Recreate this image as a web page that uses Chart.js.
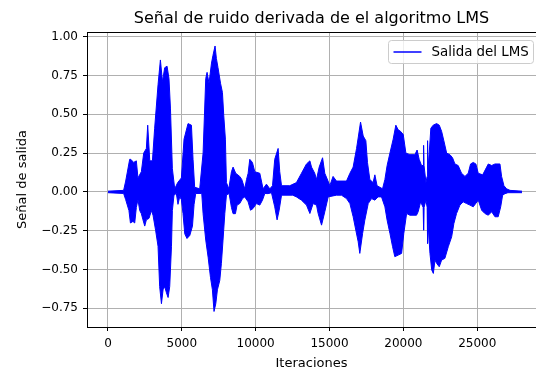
<!DOCTYPE html>
<html>
<head>
<meta charset="utf-8">
<script src="https://cdn.jsdelivr.net/npm/chart.js@4.4.0/dist/chart.umd.min.js"></script>
<style>
  html, body { margin: 0; padding: 0; background: #fff; }
</style>
</head>
<body>
<canvas id="lms-chart" width="536" height="369"></canvas>
<script>
// upper envelope of the LMS output (iteration, value)
const upperIters = [0, 1060, 1200, 1470, 1540, 1740, 1920, 2030, 2260, 2420,
  2600, 2690, 2830, 3010, 3160, 3390, 3550, 3690, 3840, 4000,
  4130, 4230, 4360, 4520, 4720, 4970, 5150, 5420, 5650, 5760,
  5870, 6210, 6440, 6620, 6710, 6840, 7010, 7110, 7250, 7340,
  7450, 7620, 7750, 7840, 7950, 8020, 8180, 8360, 8470, 8650,
  8920, 9060, 9260, 9380, 9490, 9600, 9780, 9940, 10280, 10500,
  10730, 10960, 11140, 11290, 11520, 11630, 11750, 12310, 12760, 13100,
  13440, 13670, 13780, 14000, 14120, 14300, 14530, 14680, 14900, 15020,
  15240, 15470, 16150, 16380, 16600, 16830, 16960, 17100, 17280, 17460,
  17570, 17730, 17950, 18070, 18220, 18590, 18750, 18900, 19090, 19310,
  19490, 19650, 19810, 19990, 20170, 20440, 20780, 20930, 21070, 21230,
  21340, 21370, 21400, 21530, 21610, 21640, 21670, 21750, 21860, 22020,
  22250, 22430, 22590, 22740, 22930, 23150, 23330, 23490, 23710, 23940,
  24170, 24390, 24550, 24730, 24910, 25070, 25370, 25640, 25750, 25980,
  26200, 26540, 26650, 26810, 26990, 27220, 28030];
const upperVals = [0.005, 0.01, 0.07, 0.21, 0.21, 0.19, 0.20, 0.09, 0.13, 0.25,
  0.28, 0.43, 0.20, 0.20, 0.41, 0.69, 0.85, 0.71, 0.80, 0.81,
  0.73, 0.54, 0.15, 0.02, 0.06, 0.09, 0.34, 0.44, 0.43, 0.21,
  0.03, 0.02, 0.25, 0.73, 0.77, 0.70, 0.83, 0.88, 0.94, 0.86,
  0.80, 0.70, 0.64, 0.49, 0.34, 0.06, 0.02, 0.13, 0.16, 0.12,
  0.10, 0.08, 0.02, 0.08, 0.12, 0.21, 0.19, 0.13, 0.12, 0.02,
  0.05, 0.02, 0.04, 0.21, 0.28, 0.13, 0.04, 0.04, 0.06, 0.12,
  0.18, 0.20, 0.16, 0.12, 0.08, 0.16, 0.22, 0.12, 0.07, 0.04,
  0.10, 0.07, 0.07, 0.12, 0.16, 0.28, 0.36, 0.45, 0.36, 0.33,
  0.19, 0.08, 0.06, 0.11, 0.04, 0.02, 0.08, 0.17, 0.25, 0.34,
  0.43, 0.40, 0.39, 0.37, 0.25, 0.24, 0.24, 0.27, 0.21, 0.17,
  0.17, 0.30, 0.17, 0.06, 0.10, 0.33, 0.15, 0.25, 0.41, 0.43,
  0.44, 0.43, 0.39, 0.33, 0.25, 0.24, 0.22, 0.18, 0.17, 0.12,
  0.10, 0.12, 0.18, 0.19, 0.18, 0.12, 0.11, 0.16, 0.18, 0.17,
  0.18, 0.18, 0.10, 0.04, 0.02, 0.01, 0.005];

// lower envelope
const lowerIters = [0, 1060, 1200, 1420, 1520, 1690, 1810, 1920, 2030, 2150,
  2260, 2370, 2490, 2600, 2780, 2940, 3050, 3230, 3390, 3500,
  3620, 3730, 3840, 3960, 4070, 4180, 4300, 4360, 4470, 4630,
  4740, 4860, 4970, 5080, 5200, 5350, 5540, 5720, 5830, 5940,
  6350, 6440, 6620, 6780, 6940, 7070, 7180, 7300, 7410, 7570,
  7680, 7790, 7910, 8020, 8200, 8360, 8470, 8630, 8740, 8920,
  9110, 9260, 9490, 9650, 9820, 10050, 10280, 10460, 10620, 10840,
  11070, 11290, 11450, 11590, 11750, 12510, 12760, 13100, 13440, 13670,
  13890, 14120, 14230, 14460, 14680, 14910, 15470, 15810, 16150, 16380,
  16600, 16780, 16940, 17050, 17240, 17390, 17620, 17850, 18070, 18290,
  18520, 18750, 18900, 19090, 19270, 19420, 19650, 19880, 20030, 20220,
  20440, 20890, 21000, 21170, 21340, 21370, 21400, 21530, 21610, 21640,
  21670, 21800, 21920, 22030, 22140, 22250, 22430, 22590, 22810, 23040,
  23270, 23420, 23600, 23830, 24050, 24280, 24510, 24730, 25070, 25300,
  25520, 25750, 25980, 26200, 26420, 26590, 26720, 26880, 27080, 28030];
const lowerVals = [-0.005, -0.01, -0.05, -0.12, -0.20, -0.19, -0.20, -0.10, -0.05, -0.12,
  -0.14, -0.18, -0.22, -0.18, -0.17, -0.12, -0.15, -0.25, -0.35, -0.61,
  -0.72, -0.63, -0.61, -0.65, -0.68, -0.61, -0.35, -0.12, -0.02, -0.01,
  -0.08, -0.03, -0.05, -0.14, -0.27, -0.30, -0.28, -0.22, -0.08, -0.01,
  -0.01, -0.14, -0.31, -0.42, -0.55, -0.63, -0.77, -0.72, -0.63, -0.57,
  -0.46, -0.31, -0.14, -0.02, -0.01, -0.10, -0.14, -0.14, -0.085, -0.075,
  -0.043, -0.032, -0.064, -0.118, -0.107, -0.075, -0.085, -0.053, -0.01, -0.011,
  -0.005, -0.096, -0.18, -0.118, -0.021, -0.021, -0.032, -0.053, -0.085, -0.139,
  -0.075, -0.085, -0.139, -0.214, -0.128, -0.032, -0.021, -0.021, -0.043, -0.075,
  -0.16, -0.246, -0.321, -0.396, -0.267, -0.182, -0.075, -0.043, -0.053, -0.032,
  -0.032, -0.096, -0.182, -0.267, -0.353, -0.417, -0.407, -0.396, -0.267, -0.139,
  -0.15, -0.15, -0.128, -0.064, -0.10, -0.246, -0.10, -0.053, -0.10, -0.332,
  -0.20, -0.396, -0.503, -0.525, -0.439, -0.46, -0.482, -0.439, -0.428, -0.353,
  -0.289, -0.203, -0.139, -0.085, -0.064, -0.075, -0.085, -0.096, -0.053, -0.118,
  -0.139, -0.15, -0.128, -0.16, -0.16, -0.096, -0.021, -0.011, -0.005, -0.005];

const xTicks = [0, 5000, 10000, 15000, 20000, 25000];
const yTicks = [-0.75, -0.5, -0.25, 0, 0.25, 0.5, 0.75, 1.0];

const FONT = 'DejaVu Sans';
const LINE_COLOR = '#0000ff';

const toPoints = (xs, ys) => xs.map((x, i) => ({x: x, y: ys[i]}));

// top spine (matplotlib draws a full frame)
const topSpine = {
  id: 'topSpine',
  afterDraw(chart) {
    const {ctx, chartArea} = chart;
    ctx.save();
    ctx.strokeStyle = '#000';
    ctx.lineWidth = 1;
    ctx.beginPath();
    ctx.moveTo(chartArea.left, Math.round(chartArea.top) + 0.5);
    ctx.lineTo(chartArea.right, Math.round(chartArea.top) + 0.5);
    ctx.stroke();
    ctx.restore();
  },
};

// matplotlib style legend box in the upper right corner
const boxLegend = {
  id: 'boxLegend',
  afterDraw(chart) {
    const {ctx, chartArea} = chart;
    const label = chart.data.datasets[0].label;
    const x = chartArea.right - 147.5;
    const y = chartArea.top + 8.5;
    const w = 145;
    const h = 23;
    ctx.save();
    ctx.beginPath();
    ctx.roundRect(x, y, w, h, 3);
    ctx.fillStyle = 'rgba(255,255,255,0.8)';
    ctx.fill();
    ctx.strokeStyle = '#cccccc';
    ctx.lineWidth = 1;
    ctx.stroke();
    ctx.beginPath();
    ctx.moveTo(x + 5, y + h / 2);
    ctx.lineTo(x + 33, y + h / 2);
    ctx.strokeStyle = LINE_COLOR;
    ctx.lineWidth = 1.5;
    ctx.stroke();
    ctx.fillStyle = '#000';
    ctx.font = `13.4px "${FONT}"`;
    ctx.textBaseline = 'middle';
    ctx.fillText(label, x + 43, y + h / 2 + 0.5);
    ctx.restore();
  },
};

const ctx = document.querySelector('#lms-chart').getContext('2d');

new Chart(ctx, {
  type: 'line',
  data: {
    datasets: [
      {
        label: 'Salida del LMS',
        data: toPoints(upperIters, upperVals),
        borderColor: LINE_COLOR,
        backgroundColor: LINE_COLOR,
        fill: 'origin',
      },
      {
        label: 'lower',
        data: toPoints(lowerIters, lowerVals),
        borderColor: LINE_COLOR,
        backgroundColor: LINE_COLOR,
        fill: 'origin',
      },
    ],
  },
  options: {
    responsive: false,
    animation: false,
    devicePixelRatio: 1,
    layout: {padding: 0},
    elements: {
      point: {radius: 0},
      line: {borderWidth: 1, tension: 0},
    },
    scales: {
      x: {
        type: 'linear',
        min: -1420,
        max: 28980,
        afterBuildTicks: (axis) => { axis.ticks = xTicks.map((v) => ({value: v})); },
        afterFit: (axis) => { axis.height = 42; },
        grid: {color: '#b0b0b0', lineWidth: 1, tickColor: '#000', tickLength: 4},
        border: {color: '#000', width: 1},
        ticks: {
          color: '#000',
          font: {family: FONT, size: 12},
          padding: 6,
          maxRotation: 0,
          autoSkip: false,
          callback: (v) => String(v),
        },
        title: {
          display: true,
          text: 'Iteraciones',
          color: '#000',
          font: {family: FONT, size: 13},
          padding: {top: 0, bottom: -2},
        },
      },
      y: {
        min: -0.87,
        max: 1.03,
        afterBuildTicks: (axis) => { axis.ticks = yTicks.map((v) => ({value: v})); },
        afterFit: (axis) => { axis.width = 87; },
        grid: {color: '#b0b0b0', lineWidth: 1, tickColor: '#000', tickLength: 4},
        border: {color: '#000', width: 1},
        ticks: {
          color: '#000',
          font: {family: FONT, size: 12},
          padding: 5,
          autoSkip: false,
          callback: (v) => v.toFixed(2).replace('-', '\u2212'),
        },
        title: {
          display: true,
          text: 'Señal de salida',
          color: '#000',
          font: {family: FONT, size: 13},
          padding: {top: 15, bottom: 0},
        },
      },
    },
    plugins: {
      legend: {display: false},
      tooltip: {enabled: false},
      title: {
        display: true,
        fullSize: false,
        text: 'Señal de ruido derivada de el algoritmo LMS',
        color: '#000',
        font: {family: FONT, size: 16, weight: 'normal'},
        padding: {top: 9, bottom: 3.8},
      },
    },
  },
  plugins: [topSpine, boxLegend],
});
</script>
</body>
</html>
